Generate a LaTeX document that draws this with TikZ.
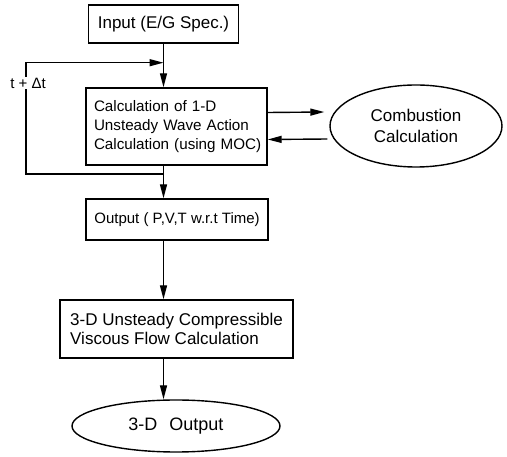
\documentclass[tikz,border=0pt]{standalone}
\usepackage{fontspec}
\setmainfont{Liberation Sans}
\usetikzlibrary{arrows.meta,shapes.geometric}
\begin{document}
\begin{tikzpicture}[x=1pt,y=-1pt,
  box/.style={draw,line width=1.4pt,rectangle,inner sep=0pt},
  oval/.style={draw,line width=1.4pt,ellipse,inner sep=0pt},
  conn/.style={line width=1.4pt},
  arr/.style={conn,-{Triangle[length=14pt,width=7pt]}},
]
\useasboundingbox[fill=white] (0,0) rectangle (507,457);
\node[box,minimum width=150pt,minimum height=38pt,font=\fontsize{17}{20}\selectfont] (input) at (163.5,24) {Input (E/G Spec.)};
\node[box,minimum width=181pt,minimum height=77pt,font=\fontsize{15.2}{19}\selectfont,align=left,text width=177pt] (calc) at (176.5,126.5) {\hspace*{6pt}Calculation of 1-D\\\hspace*{6pt}Unsteady Wave Action\\\hspace*{6pt}Calculation (using MOC)};
\node[box,minimum width=182pt,minimum height=41pt,font=\fontsize{15}{19}\selectfont] (out) at (177,219.5) {Output ( P,V,T w.r.t Time)};
\node[box,minimum width=233pt,minimum height=58pt,font=\fontsize{17}{19}\selectfont,align=left] (box3d) at (176.5,329) {3-D Unsteady Compressible\\Viscous Flow Calculation};
\node[oval,minimum width=208pt,minimum height=52pt,font=\fontsize{18}{21}\selectfont] (out3d) at (176,426) {3-D\hspace{12pt}Output};
\node[oval,minimum width=172pt,minimum height=82pt,font=\fontsize{17}{21}\selectfont,align=center] (comb) at (416,126) {Combustion\\Calculation};
\path (input.south) ++(0,19) coordinate (j2);
\path (input.south |- calc.south) ++(0,8.5) coordinate (j1);
\draw[arr] (input.south) -- (input.south |- calc.north);
\draw[arr] (input.south |- calc.south) -- (input.south |- out.north);
\draw[arr] (j1) -- ++(-137.5,0) |- (j2);
\node[fill=white,inner sep=1pt,font=\fontsize{15}{18}\selectfont] (dt) at (28,83) {t + Δt};
\draw[arr] (input.south |- out.south) -- (input.south |- box3d.north);
\draw[arr] (input.south |- box3d.south) -- (input.south |- out3d.north);
\draw[arr] ([yshift=14pt]calc.east) -- ([yshift=14pt,xshift=-5pt]comb.west);
\draw[arr] ([yshift=-13pt,xshift=-2pt]comb.west) -- ([yshift=-13pt]calc.east);
\end{tikzpicture}
\end{document}
